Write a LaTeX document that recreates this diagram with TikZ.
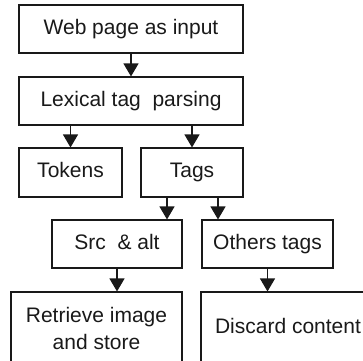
\documentclass[tikz,border=0pt]{standalone}
\usepackage{fontspec}
\setmainfont{Liberation Sans}
\usetikzlibrary{arrows.meta}
\begin{document}
\begin{tikzpicture}[x=1pt,y=-1pt,
  box/.style={draw=black!90, line width=1.1pt, inner sep=0pt, text height=15pt, text depth=4.5pt,
    font=\fontsize{21}{27}\selectfont, text=black!90},
  mbox/.style={draw=black!90, line width=1.1pt, inner sep=0pt, align=center,
    font=\fontsize{21}{27}\selectfont, text=black!90},
  arr/.style={line width=1.1pt, draw=black!90, -{Triangle[length=13pt,width=15pt]}}]
\useasboundingbox (0,0) rectangle (363,360);
\clip (0,0) rectangle (363,360);
\node[box, minimum width=224pt, minimum height=48pt] (web) at (131,29) {Web page as input};
\node[box, minimum width=224pt, minimum height=48pt] (lex) at (131,101) {Lexical tag\ \ parsing};
\node[box, minimum width=103pt, minimum height=49pt] (tok) at (70.5,172.5) {Tokens};
\node[box, minimum width=102pt, minimum height=49pt] (tags) at (192,172.5) {Tags};
\node[box, minimum width=130pt, minimum height=48pt] (src) at (117,244) {Src\ \ \& alt};
\node[box, minimum width=131pt, minimum height=48pt] (oth) at (267.5,244) {Others tags};
\node[mbox, minimum width=171pt, minimum height=72pt] (ret) at (96.5,328) {Retrieve image\\and store};
\node[box, minimum width=174pt, minimum height=72pt] (dis) at (288,328) {Discard content};
\draw[arr] (web.south) -- (lex.north);
\draw[arr] (lex.south -| tok.north) -- (tok.north);
\draw[arr] (lex.south -| tags.north) -- (tags.north);
\coordinate (t1) at (167,0);
\coordinate (t2) at (218,0);
\draw[arr] (tags.south -| t1) -- (src.north -| t1);
\draw[arr] (tags.south -| t2) -- (oth.north -| t2);
\draw[arr] (src.south) -- (ret.north -| src.south);
\draw[arr] (oth.south) -- (dis.north -| oth.south);
\end{tikzpicture}
\end{document}
